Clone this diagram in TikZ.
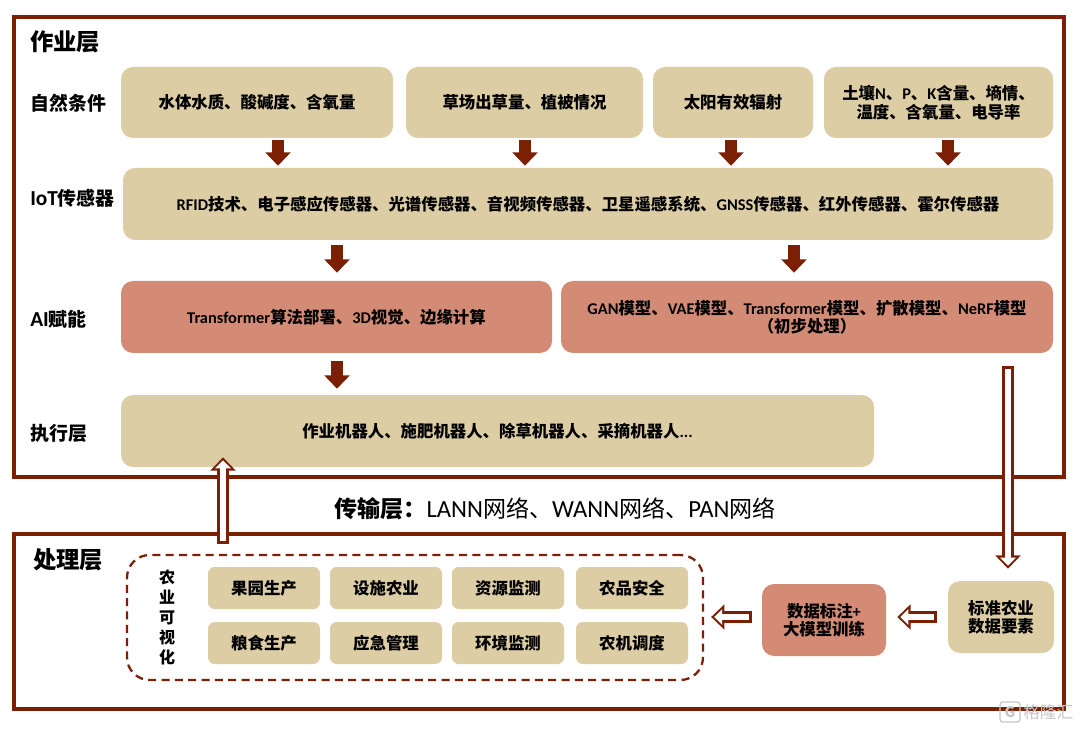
\documentclass[tikz,border=0pt]{standalone}
\usepackage{fontspec}
\setmainfont{Noto Sans CJK SC}
\newfontfamily\latfont{Carlito}
\newcommand{\lt}[1]{{\latfont #1}}
\newcommand{\fsz}[1]{\fontsize{#1}{#1}\selectfont}
\usetikzlibrary{arrows.meta,calc}
\definecolor{boxtan}{HTML}{DCCDA5}
\definecolor{boxrose}{HTML}{D48B75}
\definecolor{linebrown}{HTML}{7B2005}
\tikzset{
  x=0.75pt,y=-0.75pt,
  frm/.style={draw=linebrown,line width=2.8pt,fill=white},
  bxbase/.style={inner sep=0pt,align=center,rounded corners=9pt,font=\fsz{12.3pt}\bfseries,text=black},
  tanbox/.style={bxbase,fill=boxtan},
  rosebox/.style={bxbase,fill=boxrose},
  smallbox/.style={bxbase,fill=boxtan,rounded corners=5pt},
  titletext/.style={inner sep=0pt,anchor=west,font=\fsz{17.5pt}\bfseries},
  rowlabel/.style={inner sep=0pt,anchor=west,font=\fsz{14.2pt}\bfseries},
  fatarrow/.style={draw=linebrown,line width=9pt,-{Triangle[length=10pt,width=18.5pt,fill=linebrown]},shorten <=1pt,shorten >=1.5pt},
  hollowouter/.style={draw=linebrown,line width=8.6pt,-{Triangle[length=10pt,width=18.5pt,fill=linebrown]}},
  hollowinner/.style={draw=white,line width=4.8pt,-{Triangle[length=6pt,width=11.4pt,fill=white]}},
  dashbox/.style={draw=linebrown,line width=1.7pt,dash pattern=on 6pt off 4pt,rounded corners=17pt},
  wmark/.style={inner sep=0pt,text=black!22}
}
\newcommand{\bx}[7]{\node[#6,minimum width={(#4-#2)*0.75pt},minimum height={(#5-#3)*0.75pt}] (#1) at ({(#2+#4)/2},{(#3+#5)/2}) {#7};}
\newcommand{\hollow}[4]{%
  \draw[hollowouter,shorten <=#3,shorten >=#4] #1 -- #2;
  \draw[hollowinner,shorten <={#3+1.9pt},shorten >={#4+2.3pt}] #1 -- #2;}
\begin{document}
\begin{tikzpicture}
\useasboundingbox (0,0) rectangle (1080,730);
\fill[white] (0,0) rectangle (1080,730);
% frames
\bx{opframe}{14}{17}{1064}{477}{frm}{}
\bx{prframe}{14}{534}{1064}{709}{frm}{}
% titles and row labels
\node[titletext] (t1) at (30,42) {作业层};
\node[rowlabel] (l1) at (30,103) {自然条件};
\node[rowlabel] (l2) at (30,198) {\lt{\fsz{16pt}IoT}传感器};
\node[rowlabel] (l3) at (30,319) {\lt{\fsz{16pt}AI}赋能};
\node[rowlabel] (l4) at (30,433) {执行层};
\node[titletext] (t2) at (33,560) {处理层};
\node[inner sep=0pt,anchor=west] (t3) at (334,509) {\fsz{17.3pt}\textbf{传输层：}\lt{\fsz{18.5pt}LANN}网络、\lt{\fsz{18.5pt}WANN}网络、\lt{\fsz{18.5pt}PAN}网络};
% row 1
\bx{a1}{121}{67}{393}{138}{tanbox}{水体水质、酸碱度、含氧量}
\bx{a2}{406}{67}{643}{138}{tanbox}{草场出草量、植被情况}
\bx{a3}{653}{67}{813}{138}{tanbox}{太阳有效辐射}
\bx{a4}{824}{67}{1053}{138}{tanbox}{土壤\lt{N}、\lt{P}、\lt{K}含量、墒情、\\[2pt]温度、含氧量、电导率}
% row 2
\bx{io}{123}{168}{1053}{240}{tanbox}{\lt{RFID}技术、电子感应传感器、光谱传感器、音视频传感器、卫星遥感系统、\lt{GNSS}传感器、红外传感器、霍尔传感器}
% row 3
\bx{ai1}{121}{281}{552}{353}{rosebox}{\lt{Transformer}算法部署、\lt{3D}视觉、边缘计算}
\bx{ai2}{561}{281}{1053}{353}{rosebox}{\lt{GAN}模型、\lt{VAE}模型、\lt{Transformer}模型、扩散模型、\lt{NeRF}模型\\[1pt]（初步处理）}
% row 4
\bx{ex}{121}{395}{874}{467}{tanbox}{作业机器人、施肥机器人、除草机器人、采摘机器人\lt{...}}
% processing layer
\bx{vis}{127}{555}{703}{680}{dashbox}{}
\node[inner sep=0pt,align=center,font=\fsz{12pt}\bfseries] (vt) at (167,617.5) {农\\[3pt]业\\[3pt]可\\[3pt]视\\[3pt]化};
\bx{s1}{208}{567}{320}{609}{smallbox}{果园生产}
\bx{s2}{330}{567}{442}{609}{smallbox}{设施农业}
\bx{s3}{452}{567}{564}{609}{smallbox}{资源监测}
\bx{s4}{576}{567}{688}{609}{smallbox}{农品安全}
\bx{s5}{208}{622}{320}{664}{smallbox}{粮食生产}
\bx{s6}{330}{622}{442}{664}{smallbox}{应急管理}
\bx{s7}{452}{622}{564}{664}{smallbox}{环境监测}
\bx{s8}{576}{622}{688}{664}{smallbox}{农机调度}
\bx{lab}{762}{584}{886}{656}{rosebox}{数据标注\lt{+}\\[1pt]大模型训练}
\bx{std}{948}{581}{1054}{653}{tanbox}{标准农业\\[1pt]数据要素}
% guide coordinates for connectors
\coordinate (c1) at (278,0);
\coordinate (c2) at (525,0);
\coordinate (c3) at (731,0);
\coordinate (c4) at (948,0);
\coordinate (c5) at (337,0);
\coordinate (c6) at (794,0);
\coordinate (c7) at (223,0);
\coordinate (c8) at (1008,0);
\coordinate (r1) at (0,617);
% solid arrows
\draw[fatarrow] (a1.south -| c1) -- (io.north -| c1);
\draw[fatarrow] (a2.south -| c2) -- (io.north -| c2);
\draw[fatarrow] (a3.south -| c3) -- (io.north -| c3);
\draw[fatarrow] (a4.south -| c4) -- (io.north -| c4);
\draw[fatarrow,shorten <=3.5pt,shorten >=6pt] (io.south -| c5) -- (ai1.north -| c5);
\draw[fatarrow,shorten <=3.5pt,shorten >=6pt] (io.south -| c6) -- (ai2.north -| c6);
\draw[fatarrow,shorten <=6pt,shorten >=4.5pt] (ai1.south -| c5) -- (ex.north -| c5);
% hollow arrows
\hollow{(vis.north -| c7)}{(ex.south -| c7)}{7.5pt}{-7.5pt}
\hollow{(ai2.south -| c8)}{(std.north -| c8)}{9.75pt}{9pt}
\hollow{(std.west |- r1)}{(lab.east |- r1)}{8.25pt}{8.25pt}
\hollow{(lab.west |- r1)}{(vis.east |- r1)}{7.5pt}{5.25pt}
% watermark
\node[wmark,draw=black!22,line width=1pt,rounded corners=2pt,minimum size=15pt,font=\fsz{11pt}\bfseries] (wm1) at (1010,712) {G};
\node[wmark,anchor=west,font=\fsz{12.5pt}] (wm2) at (1023,712) {格隆汇};
\end{tikzpicture}
\end{document}
